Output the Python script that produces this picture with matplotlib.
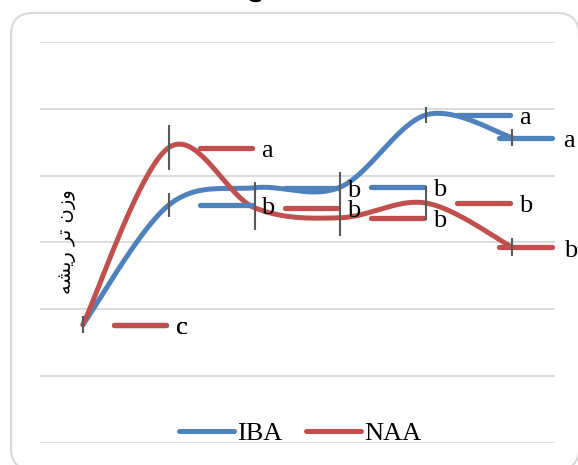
import matplotlib
matplotlib.use("Agg")
import matplotlib.pyplot as plt
import matplotlib.patches as mpatches
import numpy as np

# values (arbitrary units, no tick labels shown)
categories = [0, 1, 2, 3, 4, 5]
iba = [1.77, 3.56, 3.82, 3.83, 4.91, 4.57]
naa = [1.77, 4.42, 3.52, 3.37, 3.59, 2.93]
iba_err = [0.13, 0.18, 0.08, 0.22, 0.12, 0.13]
naa_err = [0.13, 0.34, 0.34, 0.28, 0.25, 0.13]
iba_letters = ["c", "b", "b", "b", "a", "a"]
naa_letters = ["c", "a", "b", "b", "b", "b"]
# y label "وزن تر ریشه" written in presentation forms, visual order
ylabel = "\ufeea\ufeb8\ufef3\ufead \ufeae\ufe97 \ufee5\ufeaf\ufeed"
title_cut = "ج"

BLUE = "#4F81BD"
RED = "#C0504D"
GRID = "#D9D9D9"


def smooth(xs, ys, n=40):
    # excel-like smoothed line (catmull-rom as cubic bezier)
    pts = np.column_stack([xs, ys]).astype(float)
    p = np.vstack([pts[0], pts, pts[-1]])
    out = []
    t = np.linspace(0, 1, n)[:, None]
    for i in range(len(pts) - 1):
        p0, p1, p2, p3 = p[i], p[i + 1], p[i + 2], p[i + 3]
        c1 = p1 + (p2 - p0) / 6
        c2 = p2 - (p3 - p1) / 6
        seg = (1 - t) ** 3 * p1 + 3 * (1 - t) ** 2 * t * c1 + 3 * (1 - t) * t ** 2 * c2 + t ** 3 * p2
        out.append(seg)
    return np.vstack(out)


fig = plt.figure(figsize=(5.78, 4.65), dpi=100)
ax = fig.add_axes([40 / 578, 22 / 465, 515 / 578, 401 / 465])
ax.set_xlim(-0.5, 5.5)
ax.set_ylim(0, 6)
ax.set_yticks(range(7))
ax.yaxis.grid(True, color=GRID, lw=1.3)
ax.set_axisbelow(True)
ax.tick_params(length=0, labelleft=False, labelbottom=False)
for s in ax.spines.values():
    s.set_visible(False)

for vals, col, name in [(iba, BLUE, "IBA"), (naa, RED, "NAA")]:
    c = smooth(categories, vals)
    ax.plot(c[:, 0], c[:, 1], color=col, lw=3.6, solid_capstyle="round", label=name, zorder=3)

# data label leaders + letters
for vals, col, letters in [(iba, BLUE, iba_letters), (naa, RED, naa_letters)]:
    for x, v, l in zip(categories, vals, letters):
        if x == categories[-1]:
            x0, x1, xt = x - 0.15, x + 0.47, x + 0.6
        else:
            x0, x1, xt = x + 0.36, x + 0.97, x + 1.08
        ax.plot([x0, x1], [v, v], color=col, lw=3.8, solid_capstyle="round", zorder=4, clip_on=False)
        ax.text(xt, v - 0.05, l, fontsize=19, family="Liberation Serif", va="center", ha="left",
                clip_on=False, zorder=5)

ax.errorbar(categories, iba, yerr=iba_err, fmt="none", ecolor="#595959", elinewidth=1.5, capsize=0, zorder=6)
ax.errorbar(categories, naa, yerr=naa_err, fmt="none", ecolor="#595959", elinewidth=1.5, capsize=0, zorder=6)

fig.text(67 / 578, 1 - 242 / 465, ylabel, rotation=90, ha="center", va="center",
         fontsize=14, family=["DejaVu Sans"])

# title cut off at the top edge, only its lowest stroke shows
fig.text(252 / 578, 1 - 2 / 465, title_cut, ha="center", va="bottom", fontsize=18,
         family=["DejaVu Sans"])

leg = fig.legend(loc="center", bbox_to_anchor=(300 / 578, 1 - 433 / 465), ncol=2, frameon=False,
                 prop={"family": "Liberation Serif", "size": 19}, handlelength=2.1,
                 handletextpad=0.1, columnspacing=0.9, borderaxespad=0)

frame = mpatches.FancyBboxPatch((11, -5), 568, 457, boxstyle="round,pad=0,rounding_size=22",
                                transform=None, facecolor="none", edgecolor=GRID, lw=1.5)
fig.patches.append(frame)

fig.savefig("out.png", dpi=100)
